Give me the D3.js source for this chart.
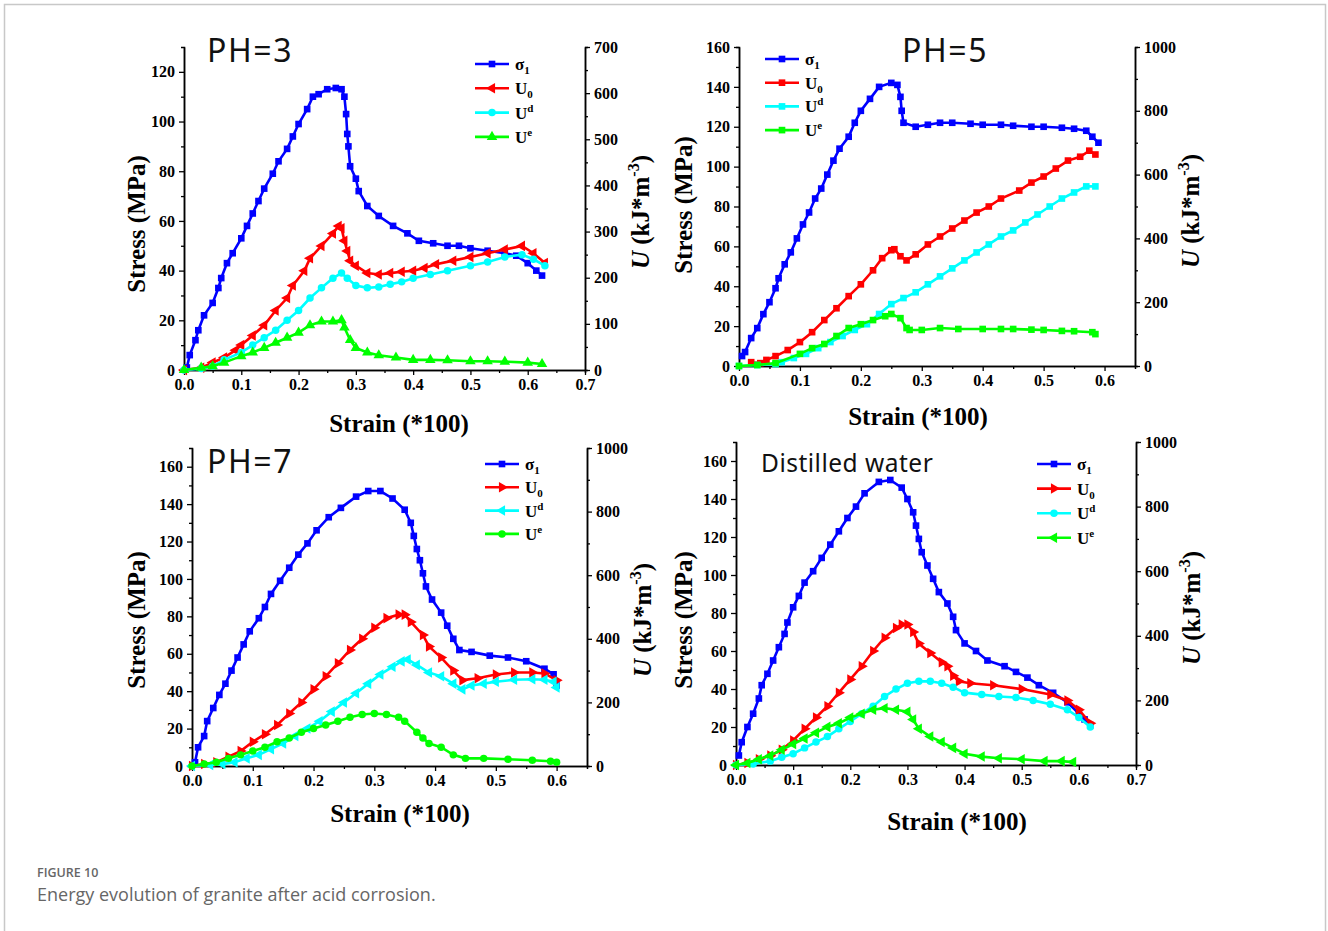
<!DOCTYPE html>
<html>
<head>
<meta charset="utf-8">
<script src="https://cdn.jsdelivr.net/npm/d3@7"></script>
<style>
  body { margin: 0; background: #fff; }
</style>
</head>
<body>
<div class="container"></div>
<script>
// data: [strain (*100), value]
// stress in MPa (left axis), energies in kJ/m^3 (right axis)
var ph3Sigma = [[0.005,1],[0.01,6],[0.02,12],[0.025,16],[0.035,22],[0.05,27],[0.06,33],[0.065,37],[0.075,43],[0.085,47],[0.1,53],[0.11,58],[0.12,63],[0.13,68],[0.14,73],[0.155,79],[0.165,84],[0.18,89],[0.19,94],[0.2,99],[0.215,105],[0.225,110],[0.235,111],[0.25,113],[0.265,113.5],[0.275,113],[0.28,110],[0.283,103],[0.285,95],[0.287,90],[0.29,82],[0.3,77],[0.305,72],[0.32,66],[0.34,62],[0.365,58],[0.39,55],[0.41,52],[0.435,51],[0.46,50],[0.48,50],[0.5,49],[0.53,48],[0.56,47],[0.58,46],[0.6,43],[0.615,40],[0.625,38]];
var ph3U0 = [[0,0],[0.03,5],[0.05,16],[0.07,27],[0.09,43],[0.1,54],[0.12,75],[0.14,97],[0.16,129],[0.18,156],[0.19,183],[0.21,215],[0.22,242],[0.24,269],[0.26,296],[0.27,312],[0.275,307],[0.28,280],[0.285,258],[0.29,237],[0.3,226],[0.32,210],[0.34,207],[0.36,210],[0.38,213],[0.4,215],[0.42,221],[0.44,229],[0.47,237],[0.5,245],[0.53,253],[0.56,261],[0.59,269],[0.61,253],[0.63,232]];
var ph3Ud = [[0,0],[0.03,3],[0.05,8],[0.07,22],[0.1,38],[0.12,54],[0.14,70],[0.16,86],[0.18,108],[0.2,129],[0.22,156],[0.24,178],[0.26,199],[0.275,210],[0.285,199],[0.3,183],[0.32,178],[0.34,180],[0.36,186],[0.38,191],[0.4,199],[0.43,207],[0.46,215],[0.5,226],[0.53,234],[0.56,245],[0.59,250],[0.61,240],[0.63,226]];
var ph3Ue = [[0,0],[0.03,5],[0.05,8],[0.07,16],[0.1,30],[0.12,38],[0.14,48],[0.16,59],[0.18,70],[0.2,81],[0.22,97],[0.24,105],[0.26,105],[0.275,108],[0.28,92],[0.29,65],[0.3,48],[0.32,38],[0.34,32],[0.37,27],[0.4,22],[0.43,22],[0.46,21],[0.5,19],[0.53,19],[0.56,18],[0.6,16],[0.625,13]];

var ph5Sigma = [[0.005,5],[0.01,7],[0.02,14],[0.03,19],[0.04,26],[0.05,32],[0.06,39],[0.065,44],[0.075,51],[0.085,57],[0.095,64],[0.105,71],[0.115,77],[0.125,84],[0.135,89],[0.145,96],[0.155,103],[0.165,109],[0.18,115],[0.19,122],[0.2,128],[0.215,134],[0.23,140],[0.25,142],[0.26,141],[0.265,135],[0.267,128],[0.27,122],[0.29,120],[0.31,121],[0.33,122],[0.35,122],[0.38,121.5],[0.4,121],[0.43,121],[0.45,120.5],[0.48,120],[0.5,120],[0.53,119.5],[0.55,119],[0.57,118],[0.58,115],[0.59,112]];
var ph5U0 = [[0.02,12],[0.035,9],[0.045,19],[0.06,31],[0.08,50],[0.1,75],[0.12,106],[0.14,144],[0.16,181],[0.18,219],[0.2,256],[0.22,300],[0.235,338],[0.25,363],[0.255,366],[0.265,344],[0.275,331],[0.29,350],[0.31,381],[0.33,406],[0.35,431],[0.37,456],[0.39,481],[0.41,500],[0.43,525],[0.46,550],[0.48,575],[0.5,594],[0.52,619],[0.54,644],[0.56,656],[0.575,675],[0.585,663]];
var ph5Ud = [[0,0],[0.03,3],[0.06,6],[0.07,12],[0.09,25],[0.11,38],[0.13,56],[0.15,75],[0.17,94],[0.19,113],[0.21,131],[0.23,163],[0.25,194],[0.27,213],[0.29,231],[0.31,256],[0.33,281],[0.35,306],[0.37,331],[0.39,356],[0.41,381],[0.43,406],[0.45,425],[0.47,450],[0.49,475],[0.51,500],[0.53,525],[0.55,544],[0.57,563],[0.585,563]];
var ph5Ue = [[0,0],[0.03,3],[0.06,9],[0.1,38],[0.12,56],[0.14,69],[0.16,94],[0.18,119],[0.2,131],[0.22,144],[0.24,156],[0.25,163],[0.265,150],[0.275,119],[0.28,113],[0.3,113],[0.33,119],[0.36,116],[0.4,116],[0.43,116],[0.45,116],[0.48,114],[0.5,113],[0.53,110],[0.55,109],[0.58,106],[0.585,100]];

var ph7Sigma = [[0.005,2],[0.01,10],[0.02,16],[0.025,24],[0.035,31],[0.045,38],[0.055,44],[0.065,51],[0.075,58],[0.085,65],[0.095,72],[0.11,79],[0.12,85],[0.13,92],[0.145,99],[0.16,106],[0.175,113],[0.19,119],[0.205,126],[0.225,133],[0.245,138],[0.27,144],[0.29,147],[0.31,147],[0.33,143],[0.35,137],[0.36,130],[0.365,123],[0.37,116],[0.375,110],[0.38,103],[0.385,96],[0.395,89],[0.41,82],[0.42,75],[0.43,68],[0.44,62],[0.46,61],[0.49,59],[0.52,58],[0.55,56],[0.58,52],[0.595,49],[0.6,43]];
var ph7U0 = [[0,0],[0.02,6],[0.04,12],[0.06,29],[0.08,47],[0.1,76],[0.12,100],[0.14,129],[0.16,165],[0.18,200],[0.2,241],[0.22,282],[0.24,323],[0.26,365],[0.28,400],[0.3,435],[0.32,465],[0.34,476],[0.35,476],[0.36,453],[0.38,412],[0.39,376],[0.41,341],[0.43,300],[0.445,270],[0.47,276],[0.5,288],[0.53,294],[0.56,294],[0.58,291],[0.6,270]];
var ph7Ud = [[0,0],[0.03,3],[0.05,6],[0.07,12],[0.09,24],[0.11,35],[0.13,53],[0.15,71],[0.17,94],[0.19,118],[0.21,141],[0.23,171],[0.25,200],[0.27,229],[0.29,259],[0.31,288],[0.33,312],[0.345,329],[0.355,335],[0.37,318],[0.39,294],[0.41,282],[0.43,259],[0.445,241],[0.46,253],[0.48,259],[0.5,265],[0.53,271],[0.56,273],[0.58,271],[0.595,265],[0.6,247]];
var ph7Ue = [[0,0],[0.02,6],[0.04,12],[0.06,24],[0.08,35],[0.1,47],[0.12,59],[0.14,76],[0.16,88],[0.18,106],[0.2,118],[0.22,129],[0.24,141],[0.26,153],[0.28,162],[0.3,165],[0.32,162],[0.34,153],[0.35,141],[0.37,106],[0.38,88],[0.39,71],[0.41,59],[0.43,35],[0.45,24],[0.48,24],[0.52,21],[0.56,18],[0.59,15],[0.6,12]];

var dwSigma = [[0.005,5],[0.01,12],[0.02,20],[0.03,27],[0.04,35],[0.045,42],[0.055,48],[0.065,55],[0.075,62],[0.085,69],[0.09,75],[0.1,83],[0.11,89],[0.12,96],[0.135,102],[0.15,109],[0.165,116],[0.18,123],[0.195,130],[0.21,136],[0.225,143],[0.25,149],[0.27,150],[0.29,146],[0.3,140],[0.31,133],[0.315,126],[0.32,119],[0.325,112],[0.335,105],[0.345,98],[0.355,91],[0.37,85],[0.38,78],[0.385,71],[0.4,64],[0.42,60],[0.44,55],[0.47,52],[0.49,49],[0.51,46],[0.53,42],[0.555,38],[0.58,33],[0.6,27],[0.61,24],[0.62,21]];
var dwU0 = [[0,0],[0.02,6],[0.04,18],[0.06,29],[0.08,47],[0.1,76],[0.12,112],[0.14,147],[0.16,182],[0.18,224],[0.2,265],[0.22,306],[0.24,353],[0.26,394],[0.28,424],[0.29,435],[0.3,435],[0.31,412],[0.32,376],[0.34,347],[0.36,318],[0.37,306],[0.38,276],[0.39,259],[0.41,253],[0.45,247],[0.5,235],[0.55,218],[0.58,200],[0.6,171],[0.62,129]];
var dwUd = [[0,0],[0.03,3],[0.06,12],[0.08,24],[0.1,35],[0.12,53],[0.14,71],[0.16,88],[0.18,112],[0.2,135],[0.22,159],[0.24,182],[0.26,212],[0.28,235],[0.3,253],[0.32,259],[0.34,259],[0.36,253],[0.38,241],[0.4,224],[0.43,218],[0.46,212],[0.49,209],[0.52,200],[0.55,188],[0.58,171],[0.6,147],[0.62,118]];
var dwUe = [[0,0],[0.02,6],[0.04,18],[0.06,29],[0.08,47],[0.1,65],[0.12,82],[0.14,100],[0.16,118],[0.18,129],[0.2,147],[0.22,159],[0.24,171],[0.26,176],[0.28,171],[0.3,165],[0.31,141],[0.32,112],[0.34,88],[0.36,71],[0.38,53],[0.4,35],[0.43,26],[0.46,21],[0.5,18],[0.54,12],[0.57,12],[0.59,9]];

var panelTitles = ["PH=3", "PH=5", "PH=7", "Distilled water"];
var xTicks = [0, 0.1, 0.2, 0.3, 0.4, 0.5, 0.6, 0.7];
var colors = ["#0000ff", "#ff0000", "#00ffff", "#00ff00"];

var serif = '"Liberation Serif", "Times New Roman", serif';
var sans = '"Noto Sans", "DejaVu Sans", sans-serif';

var svg = d3.select(".container").append('svg')
  .attr('width', 1328)
  .attr('height', 931)
  .attr('font-family', serif);

// outer frame of the figure
svg.append('rect')
  .attr('x', 4.5).attr('y', 4.5)
  .attr('width', 1321).attr('height', 940)
  .attr('fill', 'none').attr('stroke', '#c8c8c8').attr('stroke-width', 1.5);

var panels = [
  {title: panelTitles[0], x0: 184, x1: 585, yb: 370, yt: 47, xMax: 0.7, lMax: 130, rMax: 700,
   lStep: 20, rStep: 100, rMinor: 50, series: [ph3Sigma, ph3U0, ph3Ud, ph3Ue],
   marks: ['square', 'left', 'circle', 'up'], titleX: 207, titleY: 62, titleSize: 32, titleLs: 1.6,
   legX: 475, legY: 64, legDy: 24.3, stressX: 145, stressY: 224, strainX: 399, strainY: 432, uY: 212},
  {title: panelTitles[1], x0: 739, x1: 1135, yb: 366, yt: 47, xMax: 0.65, lMax: 160, rMax: 1000,
   lStep: 20, rStep: 200, rMinor: 100, series: [ph5Sigma, ph5U0, ph5Ud, ph5Ue],
   marks: ['square', 'square', 'square', 'square'], titleX: 902, titleY: 62, titleSize: 32, titleLs: 1.6,
   legX: 765, legY: 59, legDy: 23.7, stressX: 692, stressY: 205, strainX: 918, strainY: 425, uY: 211},
  {title: panelTitles[2], x0: 192, x1: 587, yb: 766, yt: 448, xMax: 0.65, lMax: 170, rMax: 1000,
   lStep: 20, rStep: 200, rMinor: 100, series: [ph7Sigma, ph7U0, ph7Ud, ph7Ue],
   marks: ['square', 'right', 'left', 'circle'], titleX: 207, titleY: 473, titleSize: 32, titleLs: 1.6,
   legX: 485, legY: 464, legDy: 23.3, stressX: 145, stressY: 620, strainX: 400, strainY: 822, uY: 620},
  {title: panelTitles[3], x0: 736, x1: 1136, yb: 765, yt: 442, xMax: 0.7, lMax: 170, rMax: 1000,
   lStep: 20, rStep: 200, rMinor: 100, series: [dwSigma, dwU0, dwUd, dwUe],
   marks: ['square', 'right', 'circle', 'left'], titleX: 761, titleY: 472, titleSize: 24.5, titleLs: 0.5,
   legX: 1037, legY: 464, legDy: 24.6, stressX: 692, stressY: 620, strainX: 957, strainY: 830, uY: 608}
];

var symbolPath = function(kind){
  if (kind === 'square') return d3.symbol().type(d3.symbolSquare).size(44)();
  if (kind === 'circle') return d3.symbol().type(d3.symbolCircle).size(44)();
  return d3.symbol().type(d3.symbolTriangle).size(48)();
};
var symbolRotate = function(kind){
  if (kind === 'left') return -90;
  if (kind === 'right') return 90;
  return 0;
};

var styleAxis = function(g){
  g.selectAll('path.domain').attr('stroke', '#000').attr('stroke-width', 1.5);
  g.selectAll('.tick line').attr('stroke', '#000').attr('stroke-width', 1.3);
  g.selectAll('.tick text').attr('font-family', serif)
    .attr('font-weight', 'bold').attr('font-size', 16).attr('fill', '#000');
};

panels.forEach(function(p){
  var x = d3.scaleLinear().domain([0, p.xMax]).range([p.x0, p.x1]);
  var yL = d3.scaleLinear().domain([0, p.lMax]).range([p.yb, p.yt]);
  var yR = d3.scaleLinear().domain([0, p.rMax]).range([p.yb, p.yt]);
  var g = svg.append('g');

  // x axis: minor ticks then major ticks with labels
  var xMajor = xTicks.filter(function(t){ return t <= p.xMax + 1e-9; });
  var xMinor = d3.range(0.05, p.xMax, 0.1);
  g.append('g').attr('transform', 'translate(0,' + p.yb + ')')
    .call(d3.axisBottom(x).tickValues(xMinor).tickSize(3).tickFormat(''))
    .call(styleAxis);
  g.append('g').attr('transform', 'translate(0,' + p.yb + ')')
    .call(d3.axisBottom(x).tickValues(xMajor).tickSize(5).tickSizeOuter(0).tickPadding(4).tickFormat(d3.format('.1f')))
    .call(styleAxis);

  // left axis
  g.append('g').attr('transform', 'translate(' + p.x0 + ',0)')
    .call(d3.axisLeft(yL).tickValues(d3.range(p.lStep / 2, p.lMax, p.lStep)).tickSize(3).tickFormat(''))
    .call(styleAxis);
  g.append('g').attr('transform', 'translate(' + p.x0 + ',0)')
    .call(d3.axisLeft(yL).tickValues(d3.range(0, p.lMax + 1, p.lStep)).tickSize(5).tickSizeOuter(0).tickPadding(4).tickFormat(d3.format('d')))
    .call(styleAxis);

  // right axis
  g.append('g').attr('transform', 'translate(' + p.x1 + ',0)')
    .call(d3.axisRight(yR).tickValues(d3.range(p.rMinor, p.rMax, p.rStep)).tickSize(3).tickFormat(''))
    .call(styleAxis);
  g.append('g').attr('transform', 'translate(' + p.x1 + ',0)')
    .call(d3.axisRight(yR).tickValues(d3.range(0, p.rMax + 1, p.rStep)).tickSize(5).tickSizeOuter(0).tickPadding(4).tickFormat(d3.format('d')))
    .call(styleAxis);

  // axis titles
  g.append('text')
    .attr('transform', 'translate(' + p.stressX + ',' + p.stressY + ') rotate(-90)')
    .attr('text-anchor', 'middle').attr('font-weight', 'bold').attr('font-size', 25)
    .text('Stress (MPa)');
  g.append('text')
    .attr('x', p.strainX).attr('y', p.strainY)
    .attr('text-anchor', 'middle').attr('font-weight', 'bold').attr('font-size', 25)
    .text('Strain (*100)');
  var rt = g.append('text')
    .attr('transform', 'translate(' + (p.x1 + 64) + ',' + p.uY + ') rotate(-90)')
    .attr('text-anchor', 'middle').attr('font-weight', 'bold').attr('font-size', 25);
  rt.append('tspan').attr('font-style', 'italic').text('U');
  rt.append('tspan').text(' (kJ*m');
  rt.append('tspan').attr('font-size', 16).attr('dy', -10).text('-3');
  rt.append('tspan').attr('dy', 10).text(')');

  // panel title
  g.append('text').attr('x', p.titleX).attr('y', p.titleY)
    .attr('font-family', sans).attr('letter-spacing', p.titleLs)
    .attr('font-size', p.titleSize).attr('fill', '#111')
    .text(p.title);

  // series: first on left axis, the energies on the right axis
  p.series.forEach(function(data, i){
    var yS = i === 0 ? yL : yR;
    var line = d3.line().x(function(d){ return x(d[0]); }).y(function(d){ return yS(d[1]); });
    g.append('path').datum(data)
      .attr('d', line).attr('fill', 'none')
      .attr('stroke', colors[i]).attr('stroke-width', 2.6);
    g.selectAll('.m' + i).data(data).enter().append('path')
      .attr('class', 'm' + i)
      .attr('d', symbolPath(p.marks[i]))
      .attr('transform', function(d){
        return 'translate(' + x(d[0]) + ',' + yS(d[1]) + ') rotate(' + symbolRotate(p.marks[i]) + ')';
      })
      .attr('fill', colors[i]);
  });

  // legend
  var names = [['σ', '1', 'sub'], ['U', '0', 'sub'], ['U', 'd', 'sup'], ['U', 'e', 'sup']];
  names.forEach(function(n, i){
    var ly = p.legY + i * p.legDy;
    g.append('line').attr('x1', p.legX).attr('x2', p.legX + 34)
      .attr('y1', ly).attr('y2', ly)
      .attr('stroke', colors[i]).attr('stroke-width', 2.6);
    g.append('path').attr('d', symbolPath(p.marks[i]))
      .attr('transform', 'translate(' + (p.legX + 17) + ',' + ly + ') rotate(' + symbolRotate(p.marks[i]) + ')')
      .attr('fill', colors[i]);
    var t = g.append('text').attr('x', p.legX + 40).attr('y', ly + 6)
      .attr('font-weight', 'bold').attr('font-size', 17);
    t.append('tspan').text(n[0]);
    t.append('tspan').attr('font-size', 11)
      .attr('dy', n[2] === 'sub' ? 4 : -7).text(n[1]);
  });
});

// caption
svg.append('text').attr('x', 37).attr('y', 877)
  .attr('font-family', '"Open Sans", sans-serif').attr('font-size', 12.5)
  .attr('font-weight', 600).attr('fill', '#666')
  .text('FIGURE 10');
svg.append('text').attr('x', 37).attr('y', 901)
  .attr('font-family', '"Open Sans", sans-serif').attr('font-size', 18)
  .attr('fill', '#666')
  .text('Energy evolution of granite after acid corrosion.');
</script>
</body>
</html>
